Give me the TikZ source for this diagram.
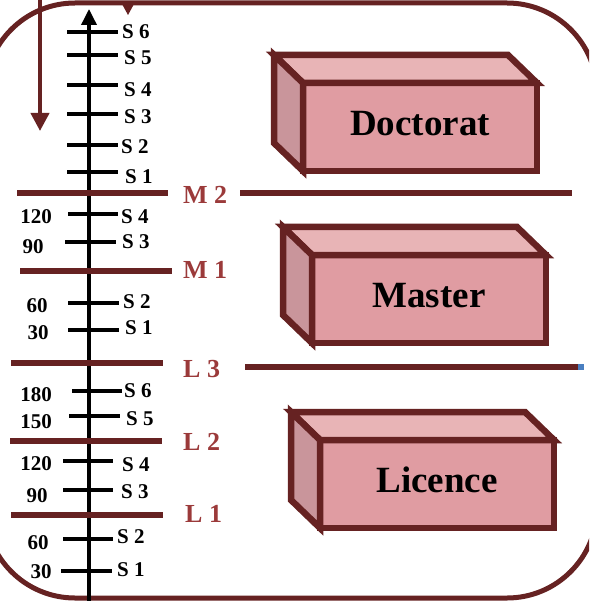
\documentclass[tikz,border=0pt]{standalone}
\usepackage{fontspec}
\setmainfont{Liberation Serif}
\usetikzlibrary{arrows.meta}

\definecolor{brique}{HTML}{662222}
\definecolor{briqueclair}{HTML}{9B3A3A}
\definecolor{rosefront}{HTML}{E09CA2}
\definecolor{rosetop}{HTML}{E8B4B6}
\definecolor{roseside}{HTML}{C9959B}
\definecolor{repere}{HTML}{4A7FC1}

\tikzset{
  palier/.style={brique, line width=5.5pt},
  graduation/.style={black, line width=3.5pt},
  semlabel/.style={inner sep=0pt, anchor=west, font=\bfseries\fontsize{21}{21}\selectfont},
  credits/.style={inner sep=0pt, font=\bfseries\fontsize{21}{21}\selectfont},
  niveau/.style={inner sep=0pt, anchor=west, text=briqueclair, font=\bfseries\fontsize{26}{26}\selectfont},
  arete/.style={brique, line width=6.5pt, line join=miter},
  facade/.style={arete, draw, fill=rosefront, text=black, outer sep=0pt, inner sep=0pt,
    text depth=8pt, minimum width=234pt, minimum height=88pt, font=\bfseries\fontsize{37}{37}\selectfont},
}

\begin{document}
\begin{tikzpicture}[x=1pt, y=-1pt]
      \useasboundingbox (0,0) rectangle (589,601);
      \clip (0,0) rectangle (589,601);

      % cadre arrondi
      \draw[brique, line width=5pt, rounded corners=90pt] (-15,3) rectangle (597,598);

      % fleche de gauche
      \coordinate (entree) at (40,-5);
      \coordinate (sortie) at (40,131);
      \draw[brique, line width=4pt, -{Triangle[length=18pt, width=18pt]}] (entree) -- (sortie);
      \fill[brique] (122,4) -- (134,4) -- (128,15) -- cycle;

      % axe des semestres
      \coordinate (origine) at (89,605);
      \coordinate (sommet) at (89,9);
      \draw[black, line width=3.5pt, -{Triangle[length=16pt, width=15pt]}] (origine) -- (sommet);

      \foreach \y/\a/\b/\lx/\ly/\s in {32/67/118/122/32/6, 55/67/118/124/58/5, 85/67/118/124/90/4,
          114/67/118/124/117/3, 145/67/118/121/147/2, 172/67/118/125/177/1,
          214/68/118/121/217/4, 242/65/116/122/242/3, 303/68/119/123/302/2, 330/68/119/125/328/1,
          391/72/122/124/391/6, 416/69/120/126/419/5, 461/63/113/122/465/4,
          490/63/113/121/492/3, 539/63/113/117/537/2, 571/61/112/117/570/1}
        {
        \draw[graduation] (\a,\y) -- (\b,\y);
        \node[semlabel] (sem\y) at (\lx,\ly) {S \s};
        }

      \foreach \x/\y/\c in {36/217/120, 33/247/90, 37/306/60, 38/333/30, 36/395/180,
          36/422/150, 36/464/120, 37/496/90, 38/543/60, 41/572/30}
        \node[credits] (ects\y) at (\x,\y) {\c};

      % paliers
      \draw[palier] (17,193) -- (168,193);
      \node[niveau] (m2) at (183,195) {M 2};
      \draw[palier] (240,193) -- (572,193);

      \draw[palier] (20,271) -- (172,271);
      \node[niveau] (m1) at (183,270) {M 1};

      \draw[palier] (11,363) -- (163,363);
      \node[niveau] (l3) at (183,369) {L 3};
      \draw[palier] (245,367) -- (578,367);
      \fill[repere] (578,364) rectangle (584,370);

      \draw[palier] (10,441) -- (162,441);
      \node[niveau] (l2) at (183,442) {L 2};

      \draw[palier] (11,515) -- (163,515);
      \node[niveau] (l1) at (185,514) {L 1};

      % diplomes
      \foreach \nom/\x/\y/\txt in {doctorat/303/83/Doctorat, master/312/255/Master, licence/320/440/Licence}
        {
        \node[facade, anchor=north west] (\nom) at (\x,\y) {\txt};
        \filldraw[arete, fill=rosetop] (\nom.north west) -- ++(-29,-28) -- ++(234,0) -- (\nom.north east) -- cycle;
        \filldraw[arete, fill=roseside] (\nom.north west) -- ++(-29,-28) -- ++(0,88) -- (\nom.south west) -- cycle;
        }
    \end{tikzpicture}
\end{document}
